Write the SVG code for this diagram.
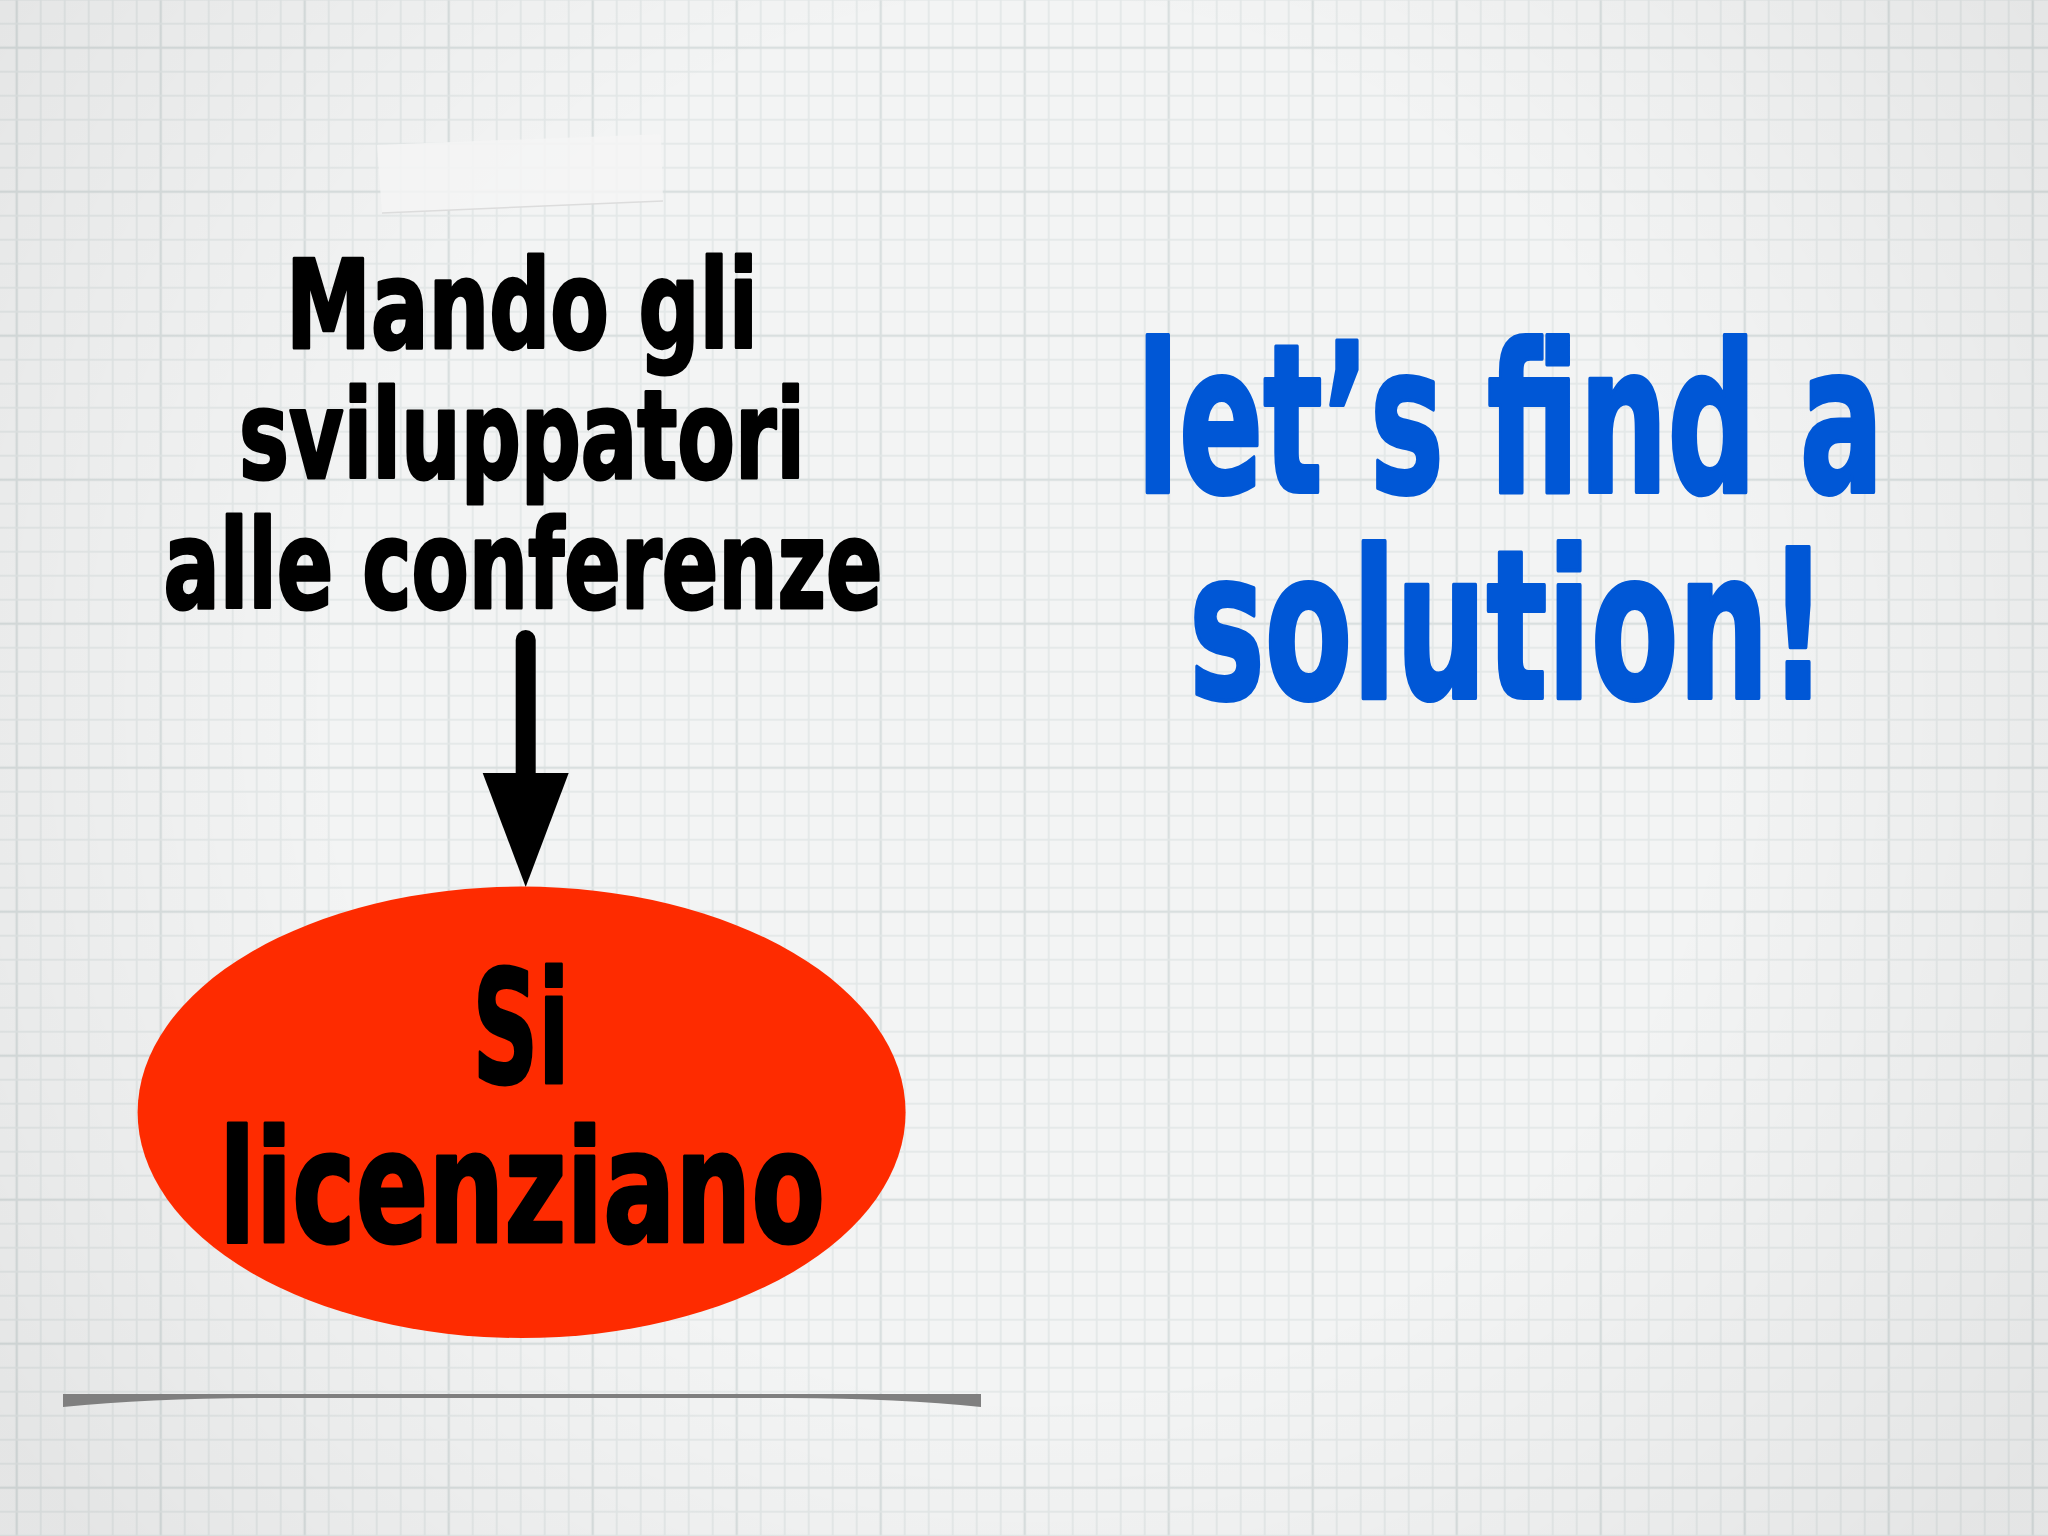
<svg xmlns="http://www.w3.org/2000/svg" width="2048" height="1536" viewBox="0 0 2048 1536">
  <style>
    .thin { fill: #e2e7e7; }
    .thick { fill: #d9dfdf; }
    .hand { font-family: "DejaVu Sans Condensed", "DejaVu Sans", "Liberation Sans", sans-serif; font-weight: bold; font-stretch: condensed; text-anchor: middle; stroke-linejoin: round; }
    .black { fill: #000000; stroke: #000000; stroke-width: 3; }
    .blue { fill: #0057d6; stroke: #0057d6; stroke-width: 4; }
  </style>
  <defs>
    <pattern id="grid" x="76.7" y="-36.3" width="144" height="144" patternUnits="userSpaceOnUse">
      <rect class="thin" x="11.2" y="0" width="1.6" height="144"/>
      <rect class="thin" x="35.2" y="0" width="1.6" height="144"/>
      <rect class="thin" x="59.2" y="0" width="1.6" height="144"/>
      <rect class="thick" x="82.8" y="0" width="2.4" height="144"/>
      <rect class="thin" x="107.2" y="0" width="1.6" height="144"/>
      <rect class="thin" x="131.2" y="0" width="1.6" height="144"/>
      <rect class="thin" x="0" y="11.2" width="144" height="1.6"/>
      <rect class="thin" x="0" y="35.2" width="144" height="1.6"/>
      <rect class="thin" x="0" y="59.2" width="144" height="1.6"/>
      <rect class="thick" x="0" y="82.8" width="144" height="2.4"/>
      <rect class="thin" x="0" y="107.2" width="144" height="1.6"/>
      <rect class="thin" x="0" y="131.2" width="144" height="1.6"/>
    </pattern>
    <radialGradient id="vignette" cx="1024" cy="700" r="1250" gradientUnits="userSpaceOnUse">
      <stop offset="0.55" stop-color="#000" stop-opacity="0"/>
      <stop offset="1" stop-color="#000" stop-opacity="0.06"/>
    </radialGradient>
    <marker id="arrowhead" viewBox="0 -45 116 90" refX="0" refY="0" markerWidth="116" markerHeight="90" markerUnits="userSpaceOnUse" orient="auto">
      <path d="M0,-43 L114,0 L0,43 Z" fill="#000"/>
    </marker>
  </defs>

  <!-- paper background -->
  <rect x="0" y="0" width="2048" height="1536" fill="#f3f4f4"/>
  <rect x="0" y="0" width="2048" height="1536" fill="url(#grid)"/>
  <rect x="0" y="0" width="2048" height="1536" fill="url(#vignette)"/>

  <!-- tape -->
  <path d="M377,145 L661,134 L663,201 L382,213 Z" fill="#f4f4f4" fill-opacity="0.85"/>
  <path d="M382,213 L663,201" stroke="#dcdcdc" stroke-width="1.5" fill="none"/>

  <!-- connectors -->
  <g id="connectors">
    <line x1="525.7" y1="640" x2="525.7" y2="773" stroke="#000" stroke-width="20" stroke-linecap="round" marker-end="url(#arrowhead)"/>
  </g>

  <g id="node-mando">
    <text class="hand black" x="522" y="348" font-size="123" textLength="472" lengthAdjust="spacingAndGlyphs">Mando gli</text>
    <text class="hand black" x="522" y="478" font-size="123" textLength="566" lengthAdjust="spacingAndGlyphs">sviluppatori</text>
    <text class="hand black" x="523" y="608" font-size="123" textLength="719" lengthAdjust="spacingAndGlyphs">alle conferenze</text>
  </g>

  <g id="node-licenziano">
    <ellipse cx="521.6" cy="1112.3" rx="384" ry="225.7" fill="#fe2b00"/>
    <text class="hand black" x="521" y="1083" font-size="156" textLength="97" lengthAdjust="spacingAndGlyphs">Si</text>
    <text class="hand black" x="522" y="1242" font-size="156" textLength="606" lengthAdjust="spacingAndGlyphs">licenziano</text>
  </g>

  <g id="node-solution">
    <text class="hand blue" x="1510" y="492" font-size="207" textLength="747" lengthAdjust="spacingAndGlyphs">let’s find a</text>
    <text class="hand blue" x="1508" y="698" font-size="207" textLength="638" lengthAdjust="spacingAndGlyphs">solution!</text>
  </g>

  <!-- bottom rule -->
  <path d="M63,1394 L981,1394 L981,1407 Q 900,1398.5 790,1398 L 260,1398 Q 150,1398.5 63,1407 Z" fill="#7f7f7f"/>
</svg>
